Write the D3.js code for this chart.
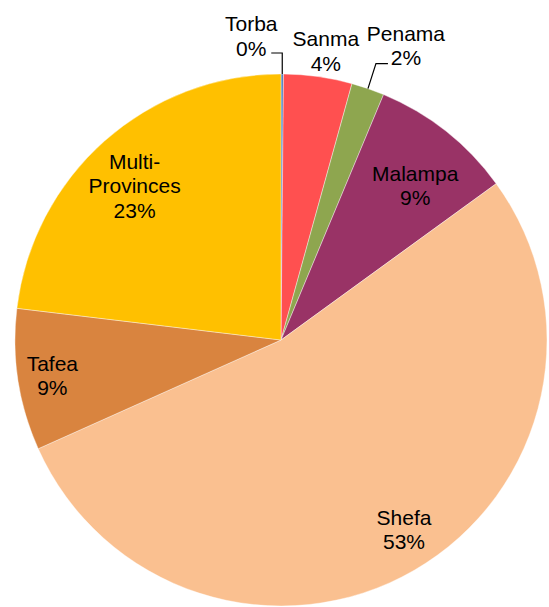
<!DOCTYPE html>
<html>
<head>
<meta charset="utf-8">
<script src="https://cdn.jsdelivr.net/npm/d3@7/dist/d3.min.js"></script>
<style>
  html, body { margin: 0; padding: 0; background: #fff; }
  svg text { font-family: "Liberation Sans", Arial, sans-serif; font-size: 21px; fill: #000; }
</style>
</head>
<body>
<svg id="chart" width="549" height="607"></svg>
<script>
// Share of projects by province (percent)
const provinces = ["Torba", "Sanma", "Penama", "Malampa", "Shefa", "Tafea", "Multi-Provinces"];
const shares    = [0.15, 4.15, 2.0, 8.7, 53.3, 8.6, 23.1];
const colours   = ["#4F81BD", "#FF5050", "#8EA64F", "#993366", "#FAC090", "#D9843F", "#FFC000"];

// Label placement: polar offsets (radius as fraction of R, angle shift in degrees)
const labelLayout = {
  "Torba":           { type: "elbow" },
  "Sanma":           { type: "outside", r: 1.10, da: 0.8 },
  "Penama":          { type: "leader",  r: 1.20, da: 4.5 },
  "Malampa":         { type: "inside",  r: 0.77, da: 2.6 },
  "Shefa":           { type: "inside",  r: 0.85, da: -2.9 },
  "Tafea":           { type: "inside",  r: 0.87, da: -0.2 },
  "Multi-Provinces": { type: "inside",  r: 0.80, da: -1.9 }
};

const svg = d3.select("#chart");
const cx = 281, cy = 340, R = 266;
const lineH = 24.5;

const data = provinces.map((p, i) => ({ name: p, value: shares[i], colour: colours[i] }));
const total = d3.sum(shares);

const pie = d3.pie().sort(null).value(d => d.value);
const arc = d3.arc().innerRadius(0).outerRadius(R);
const arcs = pie(data);

const g = svg.append("g").attr("transform", `translate(${cx},${cy})`);

g.selectAll("path.slice")
  .data(arcs)
  .enter().append("path")
  .attr("class", "slice")
  .attr("d", arc)
  .attr("fill", d => d.data.colour)
  .attr("stroke", "#fff")
  .attr("stroke-width", 0.4);

function polar(r, ang) {
  return [r * Math.sin(ang), -r * Math.cos(ang)];
}

function labelLines(d) {
  const pct = Math.round(d.data.value / total * 100) + "%";
  const nameLines = d.data.name.includes("-")
    ? d.data.name.replace("-", "-\n").split("\n")
    : [d.data.name];
  return nameLines.concat([pct]);
}

// Draws a centred block of lines whose vertical middle sits at (x, y)
function drawBlock(x, y, lines) {
  const n = lines.length;
  const firstBaseline = y - (n - 1) * lineH / 2 + 7.5;
  const t = g.append("text").attr("text-anchor", "middle");
  lines.forEach((s, i) => {
    t.append("tspan").attr("x", x).attr("y", firstBaseline + i * lineH).text(s);
  });
}

arcs.forEach(d => {
  const lay = labelLayout[d.data.name];
  const mid = (d.startAngle + d.endAngle) / 2;
  const lines = labelLines(d);
  if (lay.type === "inside" || lay.type === "outside") {
    const [x, y] = polar(R * lay.r, mid + lay.da * Math.PI / 180);
    drawBlock(x, y, lines);
  } else if (lay.type === "leader") {
    const [x0, y0] = polar(R, mid);
    const [x1, y1] = [x0 + 8, y0 - 25];
    const x2 = x1 + 12;
    g.append("path")
      .attr("d", `M${x0},${y0}L${x1},${y1}L${x2},${y1}`)
      .attr("fill", "none").attr("stroke", "#000").attr("stroke-width", 1.2);
    drawBlock(x2 + 18, y1 - 18, lines);
  } else if (lay.type === "elbow") {
    const [x0, y0] = polar(R, mid);
    const y1 = y0 - 21;
    const x2 = x0 - 11;
    g.append("path")
      .attr("d", `M${x0},${y0}L${x0},${y1}L${x2},${y1}`)
      .attr("fill", "none").attr("stroke", "#000").attr("stroke-width", 1.2);
    drawBlock(x2 - 20, y1 - 17, lines);
  }
});
</script>
</body>
</html>
